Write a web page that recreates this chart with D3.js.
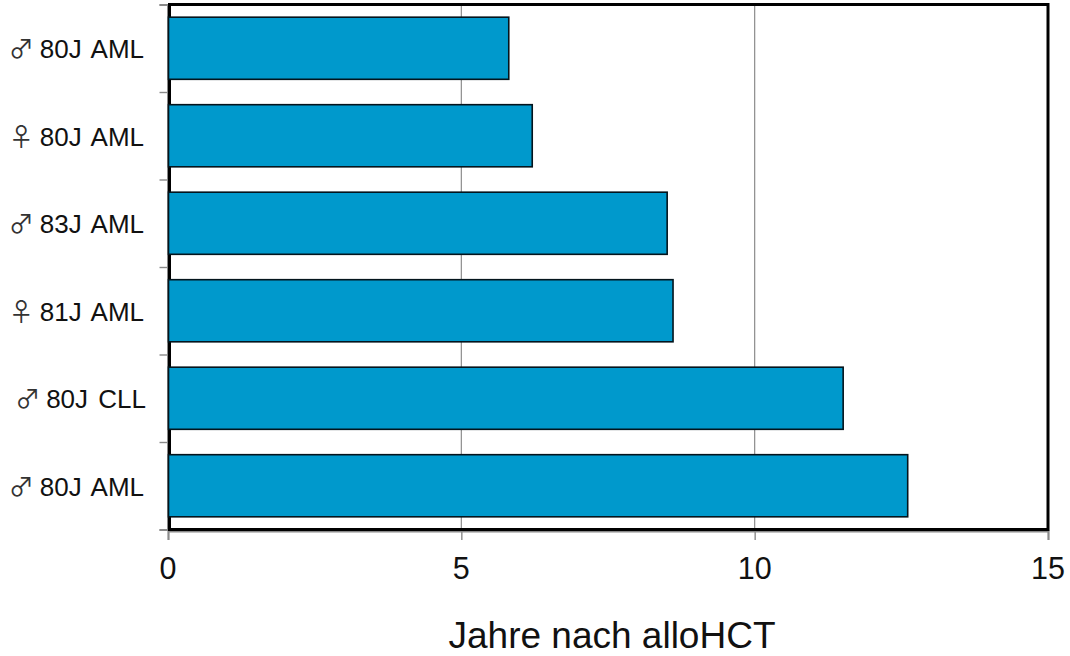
<!DOCTYPE html>
<html>
<head>
<meta charset="utf-8">
<script src="https://cdn.jsdelivr.net/npm/d3@7"></script>
<style>
  html, body { margin: 0; padding: 0; background: #fff; }
  svg { display: block; }
  text { font-family: "Liberation Sans", Arial, sans-serif; fill: #111; }
</style>
</head>
<body>
<svg id="chart" width="1070" height="656"></svg>
<script>
// Years after allogeneic transplant for six elderly patients
const symbols = ["♂", "♀", "♂", "♀", "♂", "♂"];
const patients = ["80J AML", "80J AML", "83J AML", "81J AML", "80J CLL", "80J AML"];
const years = [5.8, 6.2, 8.5, 8.6, 11.5, 12.6];
const xTicks = [0, 5, 10, 15];
const xTitle = "Jahre nach alloHCT";

const svg = d3.select("#chart");
const plotLeft = 168, plotRight = 1048, plotTop = 4.5, plotBottom = 529.5;
const rows = d3.range(years.length);

const x = d3.scaleLinear().domain([0, 15]).range([plotLeft, plotRight]);
const y = d3.scaleBand().domain(rows).range([plotTop, plotBottom]).paddingInner(0.29).paddingOuter(0.145);

// Vertical gridlines sit behind the bars
svg.append("g").selectAll("line").data(xTicks.slice(1, -1)).join("line")
  .attr("x1", d => x(d)).attr("x2", d => x(d))
  .attr("y1", plotTop).attr("y2", plotBottom)
  .attr("stroke", "#8c8c8c").attr("stroke-width", 1.2);

// Grey axis lines with outward ticks
const axisColor = "#8a8a8a";
const axisBottom = svg.append("g").attr("transform", `translate(0,${plotBottom + 1.5})`)
  .call(d3.axisBottom(x).tickValues(xTicks).tickSize(9).tickFormat(""));
const rowEdges = d3.scaleLinear().domain([0, years.length]).range([plotTop, plotBottom]);
const axisLeft = svg.append("g").attr("transform", `translate(${plotLeft - 0.5},0)`)
  .call(d3.axisLeft(rowEdges).tickValues(d3.range(years.length + 1)).tickSize(8).tickFormat(""));
for (const axis of [axisBottom, axisLeft]) {
  axis.selectAll("path").attr("stroke", axisColor).attr("stroke-width", 2);
  axis.selectAll("line").attr("stroke", axisColor).attr("stroke-width", 1.4);
}

// Black plot frame
svg.append("rect")
  .attr("x", plotLeft + 1.5).attr("y", plotTop)
  .attr("width", plotRight - plotLeft - 1.5).attr("height", plotBottom - plotTop)
  .attr("fill", "none").attr("stroke", "#000").attr("stroke-width", 3);

// Bars
svg.append("g").selectAll("rect").data(rows).join("rect")
  .attr("x", x(0) + 0.5)
  .attr("y", i => y(i))
  .attr("width", i => x(years[i]) - x(0))
  .attr("height", y.bandwidth())
  .attr("fill", "#0099cc").attr("stroke", "#04141c").attr("stroke-width", 1.6);

// Row labels: symbol plus patient description
const labels = svg.append("g").selectAll("text").data(rows).join("text")
  .attr("x", i => patients[i].includes("CLL") ? 146 : 144)
  .attr("y", i => y(i) + y.bandwidth() / 2 + 10)
  .attr("text-anchor", "end")
  .attr("font-size", 26);
labels.append("tspan")
  .attr("font-family", "'Noto Sans CJK JP', sans-serif")
  .attr("font-size", 25)
  .attr("fill", "#333")
  .text(i => symbols[i]);
labels.append("tspan").attr("dx", 6).attr("word-spacing", 3).text(i => patients[i]);

// X tick labels and title
svg.append("g").selectAll("text").data(xTicks).join("text")
  .attr("x", d => x(d)).attr("y", 579)
  .attr("text-anchor", "middle").attr("font-size", 30.5)
  .text(d => d);
svg.append("text")
  .attr("x", 612).attr("y", 648)
  .attr("text-anchor", "middle").attr("font-size", 37)
  .text(xTitle);
</script>
</body>
</html>
